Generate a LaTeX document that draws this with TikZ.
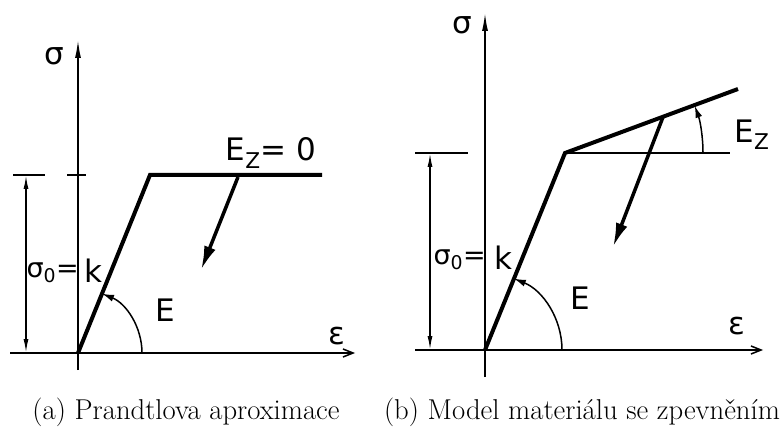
\documentclass[tikz,border=0pt]{standalone}
\usepackage{fontspec}
\newfontfamily\hand{DejaVu Sans}
\usetikzlibrary{arrows.meta}
\tikzset{
  thin line/.style={line width=1.5pt},
  thick line/.style={line width=4pt, line join=miter},
  axisup/.style={thin line, -{Latex[length=18pt,width=6pt]}},
  axisright/.style={thin line, -{Straight Barb[length=10pt,width=8pt]}},
  dimarrow/.style={thin line, {Latex[length=14pt,width=5pt]}-{Latex[length=14pt,width=5pt]}},
  bigarrow/.style={line width=3.5pt, -{Latex[length=24pt,width=12pt]}},
  arcarrow/.style={thin line, -{Latex[length=12pt,width=7pt]}},
  lbl/.style={font=\hand\fontsize{31}{33}\selectfont, inner sep=0pt},
  sublbl/.style={font=\hand\fontsize{27}{29}\selectfont, inner sep=0pt},
  captext/.style={font=\fontsize{28.7}{32}\selectfont, inner sep=0pt}
}
\begin{document}
\begin{tikzpicture}[x=1pt,y=-1pt]
\useasboundingbox (0,0) rectangle (783,430);
% ---------- (a) ----------
\coordinate (aO) at (78,353);
\coordinate (aTop) at (78,40);
\coordinate (aBot) at (78,370);
\coordinate (aL) at (10,353);
\coordinate (aR) at (355,353);
\coordinate (aY) at (150,175);
\coordinate (aEnd) at (322,175);
\draw[thin line] (aBot) -- (aO);
\draw[axisup] (aO) -- (aTop);
\draw[axisright] (aL) -- (aR);
\draw[thin line] (13,175) -- (45,175);
\draw[thin line] (67,175) -- (86,175);
\draw[dimarrow] (26,175) -- (26,353);
\draw[thick line] (aO) -- (aY) -- (aEnd);
\draw[arcarrow] (142,353) arc[start angle=0, end angle=-68, radius=64];
\draw[bigarrow] (238,177) -- (201,270);
\node[lbl] (asig) at (54,56) {σ};
\node[lbl] (aeps) at (337,336) {ε};
\node[lbl] (aE) at (165,310) {E};
\node[lbl] (aEz) at (271,153) {E\textsubscript{Z}= 0};
\node[sublbl, anchor=east] (as0) at (79,273) {σ\textsubscript{0}=};
\node[lbl] (ak) at (93,271) {k};
\node[captext] (capa) at (186,412) {(a) Prandtlova aproximace};
% ---------- (b) ----------
\coordinate (bO) at (485,350);
\coordinate (bTop) at (485,13);
\coordinate (bBot) at (485,377);
\coordinate (bL) at (415,350);
\coordinate (bR) at (763,350);
\coordinate (bY) at (565,153);
\coordinate (bEnd) at (738,89);
\draw[thin line] (bBot) -- (bO);
\draw[axisup] (bO) -- (bTop);
\draw[axisright] (bL) -- (bR);
\draw[thin line] (415,153) -- (468,153);
\draw[thin line] (bY) -- (730,153);
\draw[dimarrow] (430,153) -- (430,350);
\draw[thick line] (bO) -- (bY) -- (bEnd);
\draw[arcarrow] (562,350) arc[start angle=0, end angle=-68, radius=77];
\draw[arcarrow] (703,153) arc[start angle=0, end angle=-20, radius=138];
\draw[bigarrow] (663,117) -- (613,247);
\node[lbl] (bsig) at (462,25) {σ};
\node[lbl] (beps) at (737,326) {ε};
\node[lbl] (bE) at (580,298) {E};
\node[lbl] (bEz) at (752,135) {E\textsubscript{Z}};
\node[sublbl, anchor=east] (bs0) at (486,260) {σ\textsubscript{0}=};
\node[lbl] (bk) at (503,258) {k};
\node[captext] (capb) at (582,412) {(b) Model materiálu se zpevněním};
\end{tikzpicture}
\end{document}
